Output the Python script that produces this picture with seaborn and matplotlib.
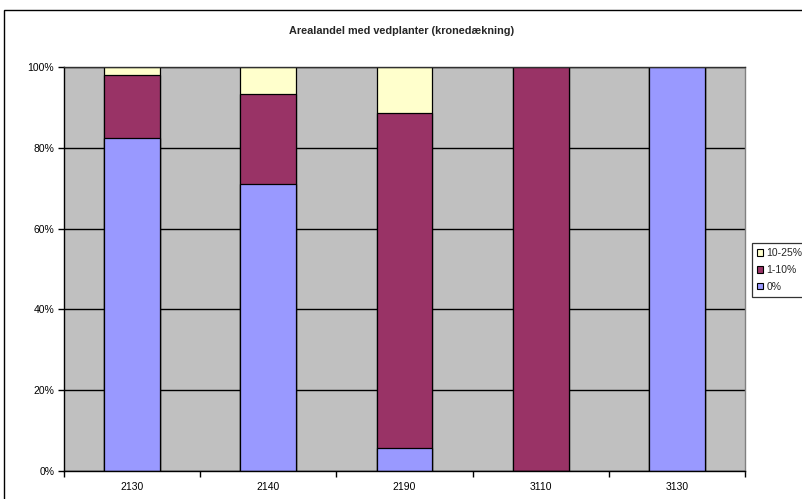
import matplotlib
matplotlib.use("Agg")
import matplotlib.pyplot as plt
from matplotlib.patches import Patch, Rectangle
import numpy as np
import pandas as pd
import seaborn as sns

# Area share by woody-plant crown cover class, per habitat type
categories = ["2130", "2140", "2190", "3110", "3130"]
share_0 = [82.5, 71.0, 5.8, 0.0, 100.0]        # 0%
share_1_10 = [15.5, 22.2, 82.9, 100.0, 0.0]    # 1-10%
share_10_25 = [2.0, 6.8, 11.3, 0.0, 0.0]       # 10-25%
series_labels = ["0%", "1-10%", "10-25%"]
y_ticks = [0, 20, 40, 60, 80, 100]

colors = {"0%": "#9999FF", "1-10%": "#993366", "10-25%": "#FFFFCC"}

df = pd.DataFrame({
    "habitat": categories,
    "0%": share_0,
    "1-10%": share_1_10,
    "10-25%": share_10_25,
})
# cumulative tops for stacking
cum = df[series_labels].cumsum(axis=1)

sns.set_theme(style="white")
plt.rcParams["font.family"] = ["Liberation Sans", "DejaVu Sans"]

W, H = 803, 499
fig = plt.figure(figsize=(W / 100, H / 100), dpi=100)
ax = fig.add_axes([64 / W, 1 - 471 / H, (745 - 64) / W, (471 - 67) / H])
ax.set_facecolor("#C0C0C0")

# draw the tallest cumulative layer first, then overlay lower layers
for name in reversed(series_labels):
    sns.barplot(x=df["habitat"], y=cum[name], color=colors[name], width=0.41,
                edgecolor="black", linewidth=0.9, saturation=1, ax=ax,
                order=categories)

ax.set_xlim(-0.5, len(categories) - 0.5)
ax.set_ylim(0, 100)
ax.set_yticks(y_ticks)
ax.set_yticklabels([f"{t}%" for t in y_ticks])
ax.set_xlabel("")
ax.set_ylabel("")
ax.set_axisbelow(True)
ax.yaxis.grid(True, color="black", linewidth=1.0)
ax.xaxis.grid(False)

# x ticks at category boundaries, labels centred
ax.set_xticks(np.arange(len(categories) + 1) - 0.5, minor=False)
ax.set_xticklabels([])
ax.set_xticks(np.arange(len(categories)), minor=True)
ax.set_xticklabels(categories, minor=True)
ax.tick_params(axis="x", which="major", length=4, width=1, color="black", direction="out", bottom=True)
ax.tick_params(axis="x", which="minor", length=0, labelsize=7.5, pad=8, colors="black")
ax.tick_params(axis="y", length=4, width=1, color="black", direction="out", left=True,
               labelsize=7.5, labelcolor="black", pad=3)

for side in ["left", "bottom"]:
    ax.spines[side].set_color("black")
    ax.spines[side].set_linewidth(1.0)
ax.spines["top"].set_color("#303030")
ax.spines["top"].set_linewidth(1.0)
ax.spines["right"].set_color("#808080")
ax.spines["right"].set_linewidth(1.0)

fig.text(402 / W, 1 - 31 / H, "Arealandel med vedplanter (kronedækning)",
         ha="center", va="center", fontsize=7.8, fontweight="bold")

handles = [Patch(facecolor=colors[n], edgecolor="black", linewidth=0.8, label=n)
           for n in reversed(series_labels)]
leg = fig.legend(handles=handles, loc="upper left",
                 bbox_to_anchor=(752 / W, 1 - 243 / H), bbox_transform=fig.transFigure,
                 fontsize=7.5, handlelength=0.6, handleheight=0.6, handletextpad=0.3,
                 labelspacing=0.65, borderpad=0.5, borderaxespad=0,
                 frameon=True, fancybox=False)
leg.get_frame().set_edgecolor("black")
leg.get_frame().set_linewidth(0.9)

# outer chart border
fig.patches.append(Rectangle((4 / W, -0.1), 1.0, (1 - 10 / H) + 0.1,
                             transform=fig.transFigure, fill=False,
                             edgecolor="black", linewidth=1.0))

fig.savefig("out.png", dpi=100, facecolor="white")
